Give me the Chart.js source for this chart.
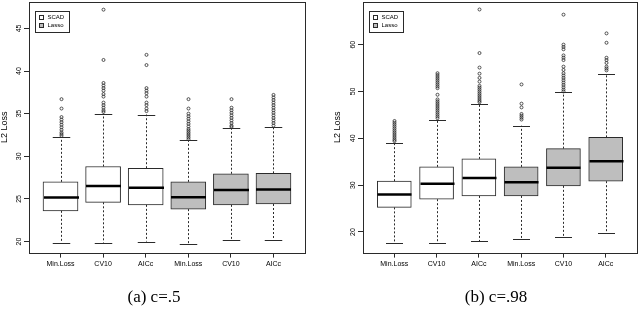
<!DOCTYPE html>
<html>
<head>
<meta charset="utf-8">
<script src="https://cdn.jsdelivr.net/npm/chart.js@4.4.0/dist/chart.umd.min.js"></script>
<style>
  body { margin: 0; background: #fff; width: 640px; height: 322px; position: relative; overflow: hidden; }
  .panel { position: absolute; top: 0; width: 320px; height: 322px; }
  .cap { position: absolute; top: 287px; width: 120px; text-align: center; font-family: 'Liberation Serif', 'DejaVu Serif', serif; font-size: 17px; line-height: 20px; color: #000; }
</style>
</head>
<body>
<div class="panel" style="left:0"><canvas id="chartA"></canvas></div>
<div class="panel" style="left:320px"><canvas id="chartB"></canvas></div>
<div class="cap" style="left:94px">(a) c=.5</div>
<div class="cap" style="left:436px">(b) c=.98</div>
<script>
const categories = ['Min.Loss', 'CV10', 'AICc', 'Min.Loss', 'CV10', 'AICc'];
const methods = ['SCAD', 'SCAD', 'SCAD', 'Lasso', 'Lasso', 'Lasso'];
const seriesNames = ['SCAD', 'Lasso'];
const yTitle = 'L2 Loss';

// panel (a) c=.5
const aLow = [19.85, 19.85, 20.0, 19.7, 20.15, 20.15];
const aQ1 = [23.6, 24.6, 24.3, 23.8, 24.3, 24.4];
const aMedian = [25.15, 26.5, 26.3, 25.2, 26.05, 26.1];
const aQ3 = [27.0, 28.8, 28.6, 27.0, 27.95, 28.0];
const aHigh = [32.25, 35.0, 34.9, 31.9, 33.3, 33.4];
const aOutliers = [
  [36.7, 35.6, 34.6, 34.3, 34.0, 33.7, 33.4, 33.1, 32.8, 32.6, 32.4],
  [47.2, 41.3, 38.6, 38.3, 38.0, 37.7, 37.3, 37.0, 36.3, 36.0, 35.7, 35.4, 35.2],
  [41.9, 40.7, 38.0, 37.7, 37.4, 37.0, 36.3, 36.0, 35.6, 35.3],
  [36.7, 35.6, 35.0, 34.7, 34.4, 34.1, 33.8, 33.5, 33.2, 33.0, 32.8, 32.6, 32.4, 32.2, 32.0],
  [36.7, 35.7, 35.4, 35.1, 34.8, 34.5, 34.2, 33.9, 33.6, 33.45],
  [37.2, 36.9, 36.6, 36.3, 36.0, 35.7, 35.4, 35.1, 34.8, 34.5, 34.2, 33.9, 33.6]
];
const aYTicks = [20, 25, 30, 35, 40, 45];

// panel (b) c=.98
const bLow = [17.6, 17.6, 18.0, 18.6, 19.0, 19.7];
const bQ1 = [25.25, 27.0, 27.7, 27.7, 29.85, 30.85];
const bMedian = [28.0, 30.3, 31.5, 30.6, 33.7, 35.1];
const bQ3 = [30.85, 33.9, 35.6, 33.9, 37.8, 40.2];
const bHigh = [39.0, 44.0, 47.4, 42.7, 49.8, 53.8];
const bOutliers = [
  [43.7, 43.3, 42.9, 42.5, 42.1, 41.7, 41.3, 40.9, 40.5, 40.1, 39.7, 39.4],
  [53.9, 53.5, 53.1, 52.7, 52.3, 51.9, 51.5, 51.1, 50.7, 49.3, 48.3, 47.9, 47.5, 47.1, 46.7, 46.3, 45.9, 45.5, 45.1, 44.7, 44.3],
  [67.5, 58.2, 55.1, 53.8, 52.9, 52.1, 51.2, 50.8, 50.4, 50.0, 49.6, 49.2, 48.8, 48.4, 48.0, 47.7],
  [51.5, 47.4, 46.6, 45.2, 44.8, 44.4, 44.0],
  [66.4, 60.0, 59.5, 59.0, 57.7, 57.2, 56.7, 55.3, 54.6, 53.9, 53.4, 52.9, 52.4, 51.9, 51.4, 50.9, 50.4, 50.0],
  [62.4, 60.4, 57.2, 56.7, 56.1, 55.3, 54.9, 54.5]
];
const bYTicks = [20, 30, 40, 50, 60];

const fillFor = { SCAD: '#ffffff', Lasso: '#bebebe' };
const ink = '#2a2a2a';

function boxPlugin(p) {
  return {
    id: 'boxExtras',
    afterDatasetsDraw(chart) {
      const ctx = chart.ctx, xs = chart.scales.x, ys = chart.scales.y;
      const half = p.boxWidth / 2;
      ctx.save();
      ctx.strokeStyle = ink;
      for (let i = 0; i < categories.length; i++) {
        const x = Math.round(xs.getPixelForValue(i + 1)) + 0.5;
        // dashed whiskers
        ctx.lineWidth = 1;
        ctx.setLineDash([2, 2]);
        ctx.beginPath();
        ctx.moveTo(x, ys.getPixelForValue(p.q3[i]));
        ctx.lineTo(x, ys.getPixelForValue(p.high[i]));
        ctx.moveTo(x, ys.getPixelForValue(p.q1[i]));
        ctx.lineTo(x, ys.getPixelForValue(p.low[i]));
        ctx.stroke();
        ctx.setLineDash([]);
        // caps
        ctx.beginPath();
        [p.high[i], p.low[i]].forEach(v => {
          const y = Math.round(ys.getPixelForValue(v)) + 0.5;
          ctx.moveTo(x - half / 2, y);
          ctx.lineTo(x + half / 2, y);
        });
        ctx.stroke();
        // median
        ctx.lineWidth = 2.5;
        ctx.strokeStyle = '#000';
        ctx.beginPath();
        const ym = ys.getPixelForValue(p.median[i]);
        ctx.moveTo(x - half, ym);
        ctx.lineTo(x + half, ym);
        ctx.stroke();
        ctx.strokeStyle = ink;
        // outliers
        ctx.lineWidth = 0.8;
        p.outliers[i].forEach(v => {
          ctx.beginPath();
          ctx.arc(x, ys.getPixelForValue(v), 1.5, 0, Math.PI * 2);
          ctx.stroke();
        });
      }
      ctx.restore();
    },
    afterDraw(chart) {
      const ctx = chart.ctx, a = chart.chartArea, ys = chart.scales.y;
      ctx.save();
      // frame
      ctx.strokeStyle = ink;
      ctx.lineWidth = 1;
      ctx.strokeRect(Math.round(a.left) + 0.5, Math.round(a.top) + 0.5,
        Math.round(a.right - a.left), Math.round(a.bottom - a.top));
      ctx.fillStyle = '#000';
      // rotated y tick labels
      ctx.font = '7px "Liberation Sans", Arial, sans-serif';
      ctx.textAlign = 'center';
      ctx.textBaseline = 'middle';
      p.yTicks.forEach(v => {
        ctx.save();
        ctx.translate(a.left - 10, ys.getPixelForValue(v));
        ctx.rotate(-Math.PI / 2);
        ctx.fillText(String(v), 0, 0);
        ctx.restore();
      });
      // y title
      ctx.save();
      ctx.font = '9px "Liberation Sans", Arial, sans-serif';
      ctx.translate(a.left - p.titleGap, (a.top + a.bottom) / 2);
      ctx.rotate(-Math.PI / 2);
      ctx.fillText(yTitle, 0, 0);
      ctx.restore();
      // legend box
      const lx = Math.round(a.left) + 6.5, ly = Math.round(a.top) + 9.5;
      ctx.strokeRect(lx, ly, 34, 21);
      ctx.font = '6px "Liberation Sans", Arial, sans-serif';
      ctx.textAlign = 'left';
      seriesNames.forEach((name, k) => {
        const ry = ly + 6 + k * 8;
        ctx.fillStyle = fillFor[name];
        ctx.fillRect(lx + 4, ry - 2, 4, 4);
        ctx.strokeRect(lx + 4, ry - 2, 4, 4);
        ctx.fillStyle = '#000';
        ctx.fillText(name, lx + 12, ry);
      });
      ctx.restore();
    }
  };
}

function makeChart(id, p) {
  new Chart(document.getElementById(id), {
    type: 'bar',
    data: {
      datasets: [{
        data: p.q1.map((v, i) => ({ x: i + 1, y: [v, p.q3[i]] })),
        backgroundColor: methods.map(m => fillFor[m]),
        borderColor: ink,
        borderWidth: 1,
        borderSkipped: false,
        barThickness: p.boxWidth
      }]
    },
    options: {
      responsive: true,
      maintainAspectRatio: false,
      animation: false,
      layout: { padding: p.padding },
      plugins: { legend: { display: false }, tooltip: { enabled: false } },
      scales: {
        x: {
          type: 'linear',
          min: 0.26,
          max: 6.74,
          offset: false,
          afterBuildTicks: axis => { axis.ticks = categories.map((c, i) => ({ value: i + 1 })); },
          grid: { offset: false, drawOnChartArea: false, drawTicks: true, tickLength: 5, color: ink },
          border: { display: false },
          ticks: {
            autoSkip: false,
            maxRotation: 0,
            padding: 2,
            color: '#000',
            font: { family: '"Liberation Sans", Arial, sans-serif', size: 7 },
            callback: (v, i) => categories[i]
          }
        },
        y: {
          min: p.yMin,
          max: p.yMax,
          afterBuildTicks: axis => { axis.ticks = p.yTicks.map(v => ({ value: v })); },
          grid: { drawOnChartArea: false, drawTicks: true, tickLength: 5, color: ink },
          border: { display: false },
          ticks: { display: false }
        }
      }
    },
    plugins: [boxPlugin(p)]
  });
}

makeChart('chartA', {
  low: aLow, q1: aQ1, median: aMedian, q3: aQ3, high: aHigh, outliers: aOutliers,
  yTicks: aYTicks, yMin: 18.7, yMax: 48.1, boxWidth: 35, titleGap: 24,
  padding: { left: 24, right: 15, top: 2, bottom: 52 }
});
makeChart('chartB', {
  low: bLow, q1: bQ1, median: bMedian, q3: bQ3, high: bHigh, outliers: bOutliers,
  yTicks: bYTicks, yMin: 15.6, yMax: 69.1, boxWidth: 34, titleGap: 25,
  padding: { left: 38, right: 3, top: 2, bottom: 52 }
});
</script>
</body>
</html>
